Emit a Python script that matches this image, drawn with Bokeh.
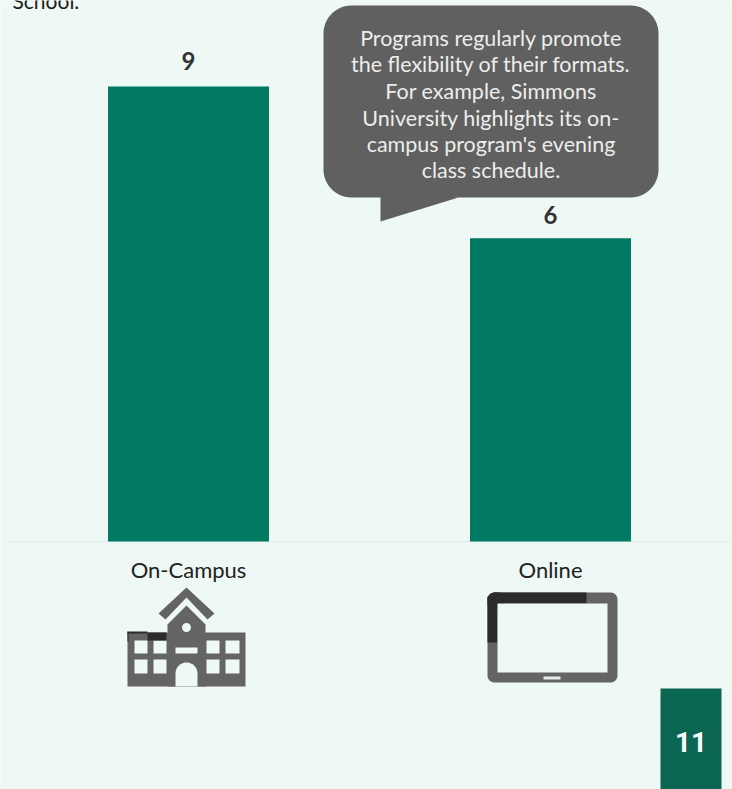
import numpy as np
from bokeh.core.properties import value
from bokeh.embed import file_html
from bokeh.models import ColumnDataSource, Range1d
from bokeh.plotting import figure
from bokeh.resources import INLINE

# Program counts by delivery format
categories = ["On-Campus", "Online"]
counts = [9, 6]
callout_lines = [
    "Programs regularly promote",
    "the flexibility of their formats.",
    "For example, Simmons",
    "University highlights its on-",
    "campus program's evening",
    "class schedule.",
]
page_number = "11"
heading_tail = "School."

BG = "#eef8f5"
GREEN = "#007a63"
GREY = "#606060"
DARK = "#2b2b2b"
FONT = value("Lato")

W, H = 732, 789
BASE_PX, UNIT_PX = 541, 455 / 9

p = figure(width=W, height=H, output_backend="svg", toolbar_location=None,
           x_range=Range1d(0, W),
           y_range=Range1d(-(H - BASE_PX) / UNIT_PX, BASE_PX / UNIT_PX),
           min_border=0, background_fill_color=BG, border_fill_color=BG)
p.axis.visible = False
p.grid.visible = False
p.outline_line_color = None
# Second vertical scale in page units, for the decoration around the bars
p.extra_y_ranges["page"] = Range1d(H, 0)


def poly(xs, ys, color):
    p.patch(xs, ys, fill_color=color, line_color=None, y_range_name="page")


def rect(x0, y0, x1, y1, color):
    p.quad(left=x0, right=x1, top=y0, bottom=y1, fill_color=color,
           line_color=None, y_range_name="page")


def rounded(x0, y0, x1, y1, r):
    xs, ys = [], []
    corners = [(x1 - r, y0 + r, -90), (x1 - r, y1 - r, 0),
               (x0 + r, y1 - r, 90), (x0 + r, y0 + r, 180)]
    for cx, cy, start in corners:
        t = np.radians(np.linspace(start, start + 90, 14))
        xs += list(cx + r * np.cos(t))
        ys += list(cy + r * np.sin(t))
    return xs, ys


def label(x, y, text, size, color, style="normal", align="center", font=FONT):
    p.text([x], [y], text=[text], text_font=font, text_font_size=f"{size}px",
           text_color=color, text_font_style=style, text_align=align,
           text_baseline="middle", y_range_name="page")


# Bars, baseline and value labels
centers = [188, 550]
src = ColumnDataSource(dict(x=centers, top=counts, cat=categories,
                            txt=[str(c) for c in counts],
                            off=[-17, -14]))
p.segment([8], [0], [730], [0], line_color="#e3ebe8", line_width=1)
p.vbar(x="x", top="top", bottom=0, width=161, source=src,
       fill_color=GREEN, line_color=None)
p.text(x="x", y="top", text="txt", source=src,
       text_font=FONT, text_font_size="24px", text_font_style="bold",
       text_color="#333333", text_align="center", text_baseline="bottom",
       y_offset="off")
for cx, cat in zip(centers, categories):
    label(cx, 569, cat, 22, "#222222")

# Clipped last line of the heading
label(12, 0, heading_tail, 21, "#1c1c1c", align="left")

# Speech bubble
bx, by = rounded(323, 5, 658, 197, 28)
poly(bx, by, GREY)
poly([380, 380, 458], [190, 221, 197], GREY)
for y, line in zip([37, 63, 90, 117, 143, 169], callout_lines):
    label(490.5, y, line, 21.5, "#eceeec")

# School icon
ICON = "#646464"
poly([186, 214, 207, 186, 165, 158], [587, 613, 619, 597, 619, 613], ICON)
poly([167, 186, 205, 205, 167], [624, 605, 624, 686, 686], ICON)
rect(127, 632, 245, 686, ICON)
for x0, x1 in [(134, 147), (153, 166), (206, 219), (225, 239)]:
    for y0, y1 in [(640, 653), (659, 673)]:
        rect(x0, y0, x1, y1, BG)
rect(175, 647, 197, 653, BG)
t = np.radians(np.linspace(180, 360, 20))
poly(list(186 + 11 * np.cos(t)) + [197, 175],
     list(673 + 11 * np.sin(t)) + [686, 686], BG)
p.circle([186], [627], radius=4.5, fill_color=BG, line_color=None,
         y_range_name="page")
rect(147, 632, 166, 640, DARK)
rect(127, 631, 147, 633, DARK)
rect(127, 631, 128, 641, DARK)

# Tablet icon
tx, ty = rounded(487, 592, 617, 682, 7)
poly(tx, ty, ICON)
rect(487, 596, 497, 642, DARK)
poly(*rounded(487, 592, 505, 610, 7), DARK)
rect(493, 592, 586, 603, DARK)
rect(497, 603, 607, 672, BG)
rect(543, 676, 560, 679, "#e4ecea")

# Page number tab
rect(660, 688, 721, 789, "#0a6650")
label(690.5, 741, page_number, 28, "#ffffff", style="bold",
      font=value("Roboto"))

open("out.html", "w").write(file_html(p, INLINE))
